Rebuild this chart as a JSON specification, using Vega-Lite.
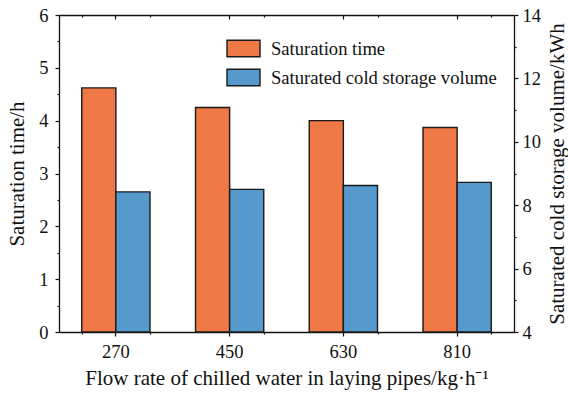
{
  "$schema": "https://vega.github.io/schema/vega-lite/v6.json",
  "width": 455,
  "height": 317,
  "autosize": {"type": "none"},
  "padding": {"left": 59, "top": 15, "right": 54, "bottom": 64},
  "background": "white",
  "config": {
    "font": "Liberation Serif, Times New Roman, serif",
    "view": {"stroke": null},
    "axis": {
      "domainColor": "#111",
      "domainWidth": 1.3,
      "tickColor": "#111",
      "tickWidth": 1.2,
      "labelColor": "#111",
      "titleColor": "#111",
      "labelFont": "Liberation Serif, Times New Roman, serif",
      "titleFont": "Liberation Serif, Times New Roman, serif",
      "labelFontSize": 18.5,
      "titleFontSize": 21,
      "titleFontWeight": "normal",
      "grid": false
    },
    "legend": {
      "labelFont": "Liberation Serif, Times New Roman, serif",
      "labelFontSize": 18.6,
      "labelColor": "#111",
      "labelLimit": 400
    }
  },
  "data": {
    "values": [
      {"flow": "270", "series": "Saturation time", "value": 4.62},
      {"flow": "450", "series": "Saturation time", "value": 4.25},
      {"flow": "630", "series": "Saturation time", "value": 4.0},
      {"flow": "810", "series": "Saturation time", "value": 3.87},
      {"flow": "270", "series": "Saturated cold storage volume", "value": 8.42},
      {"flow": "450", "series": "Saturated cold storage volume", "value": 8.5},
      {"flow": "630", "series": "Saturated cold storage volume", "value": 8.62},
      {"flow": "810", "series": "Saturated cold storage volume", "value": 8.72}
    ]
  },
  "resolve": {"scale": {"y": "independent"}, "axis": {"x": "independent"}},
  "layer": [
    {
      "transform": [{"filter": "datum.series === 'Saturation time'"}],
      "mark": {"type": "bar", "stroke": "#1a1a1a", "strokeWidth": 1.4},
      "encoding": {
        "x": {
          "field": "flow", "type": "ordinal",
          "scale": {"paddingInner": 0.4, "paddingOuter": 0.2},
          "axis": {
            "orient": "bottom", "title": "Flow rate of chilled water in laying pipes/kg·h⁻¹",
            "labelAngle": 0, "tickSize": 4, "labelPadding": 6, "titlePadding": 7
          }
        },
        "xOffset": {
          "field": "series", "type": "nominal",
          "scale": {"domain": ["Saturation time", "Saturated cold storage volume"]}
        },
        "y": {
          "field": "value", "type": "quantitative",
          "scale": {"domain": [0, 6], "nice": false, "zero": false},
          "axis": {
            "orient": "left", "title": "Saturation time/h",
            "values": [0, 0.5, 1, 1.5, 2, 2.5, 3, 3.5, 4, 4.5, 5, 5.5, 6],
            "labelExpr": "datum.value % 1 === 0 ? format(datum.value, 'd') : ''",
            "tickSize": {"condition": {"test": "datum.value % 1 !== 0", "value": 2}, "value": 4},
            "labelPadding": 7, "titlePadding": 11
          }
        },
        "color": {
          "field": "series", "type": "nominal",
          "scale": {
            "domain": ["Saturation time", "Saturated cold storage volume"],
            "range": ["#EE7846", "#5599CD"]
          },
          "legend": {
            "title": null, "orient": "none", "legendX": 167, "legendY": 16,
            "padding": 0, "rowPadding": -11, "labelOffset": 10,
            "symbolType": "M-1,-0.5H1V0.5H-1Z", "symbolSize": 1089,
            "symbolStrokeColor": "#1a1a1a", "symbolStrokeWidth": 1.4, "symbolOpacity": 1
          }
        }
      }
    },
    {
      "transform": [{"filter": "datum.series === 'Saturated cold storage volume'"}],
      "mark": {"type": "bar", "stroke": "#1a1a1a", "strokeWidth": 1.4},
      "encoding": {
        "x": {
          "field": "flow", "type": "ordinal",
          "axis": {"orient": "top", "title": null, "labels": false, "tickSize": -4}
        },
        "xOffset": {"field": "series", "type": "nominal"},
        "y": {
          "field": "value", "type": "quantitative",
          "scale": {"domain": [4, 14], "nice": false, "zero": false},
          "axis": {
            "orient": "right", "title": "Saturated cold storage volume/kWh",
            "titleAngle": 270, "titleBaseline": "top",
            "values": [4, 5, 6, 7, 8, 9, 10, 11, 12, 13, 14],
            "labelExpr": "datum.value % 2 === 0 ? format(datum.value, 'd') : ''",
            "tickSize": {"condition": {"test": "datum.value % 2 !== 0", "value": 2}, "value": 4},
            "labelPadding": 4, "titlePadding": 6
          }
        },
        "y2": {"datum": 4},
        "color": {"field": "series", "type": "nominal"}
      }
    },
    {
      "mark": {"type": "bar", "opacity": 0},
      "encoding": {
        "x": {
          "field": "flow", "type": "ordinal",
          "axis": {"orient": "bottom", "title": null, "labels": false, "domain": false, "tickBand": "extent", "tickSize": 2}
        }
      }
    },
    {
      "mark": {"type": "bar", "opacity": 0},
      "encoding": {
        "x": {
          "field": "flow", "type": "ordinal",
          "axis": {"orient": "top", "title": null, "labels": false, "domain": false, "tickBand": "extent", "tickSize": -2}
        }
      }
    }
  ]
}
